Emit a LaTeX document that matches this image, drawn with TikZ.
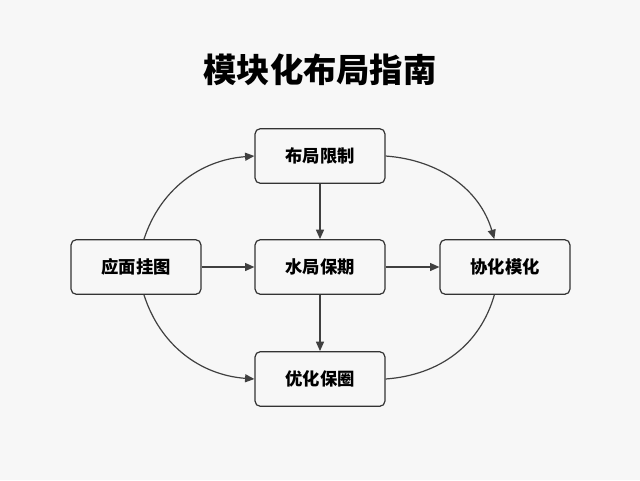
\documentclass[tikz,border=0pt]{standalone}
\usepackage{fontspec}
\setmainfont{Noto Sans CJK SC}
\usetikzlibrary{arrows.meta}
\begin{document}
\begin{tikzpicture}[x=0.75pt,y=-0.75pt,
  box/.style={draw=black!80, rounded corners=4pt, line width=0.9pt, minimum width=97.5pt, minimum height=41pt, font=\bfseries\fontsize{13}{15}\selectfont},
  arr/.style={draw=black!75, line width=0.9pt, -{Triangle[length=7pt,width=6pt]}},
  lnk/.style={draw=black!75, line width=0.9pt}]
\fill[white!97!black] (0,0) rectangle (640,480);
\useasboundingbox (0,0) rectangle (640,480);
\node[font=\bfseries\fontsize{25}{30}\selectfont] (title) at (320,70) {模块化布局指南};
\node[box] (top) at (320,156) {布局限制};
\node[box] (mid) at (320,267) {水局保期};
\node[box] (left) at (136,267) {应面挂图};
\node[box] (right) at (505,267) {协化模化};
\node[box] (bot) at (320,379) {优化保圈};
\path[arr] (left) -- (mid);
\path[arr] (mid) -- (right);
\path[arr] (top) -- (mid);
\path[arr] (mid) -- (bot);
\path[arr] (left.north) ++(8,0) .. controls (160,190) and (200,160) .. (top.west);
\path[arr] (left.south) ++(8,0) .. controls (160,345) and (200,375) .. (bot.west);
\path[arr] (top.east) .. controls (440,160) and (480,190) .. ([xshift=-8]right.north);
\path[lnk] (bot.east) .. controls (440,375) and (480,345) .. ([xshift=-8]right.south);
\end{tikzpicture}
\end{document}
